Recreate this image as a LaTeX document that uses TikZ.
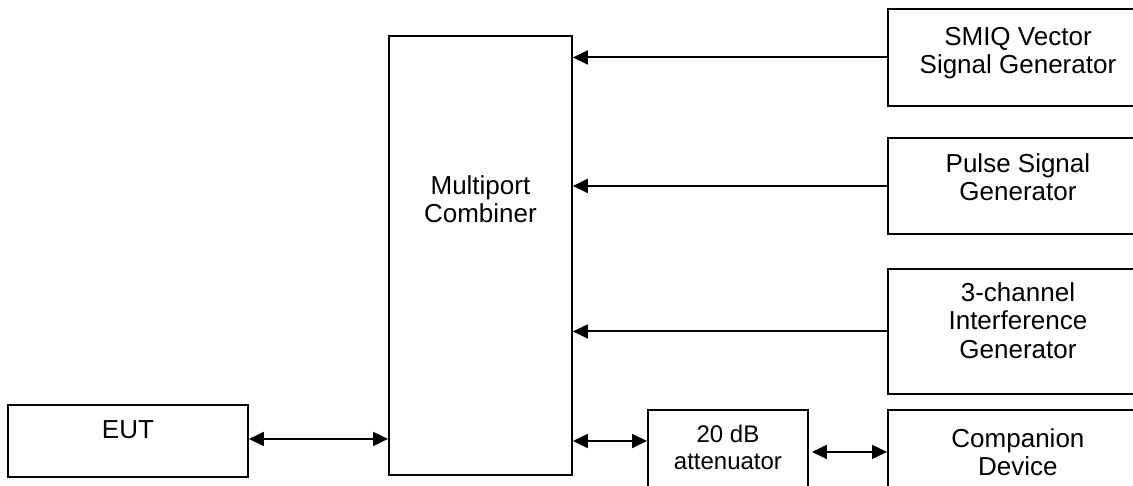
\documentclass[tikz,border=0pt]{standalone}
\usepackage{fontspec}
\setmainfont{Liberation Sans}
\usetikzlibrary{positioning,arrows.meta}
\tikzset{
  box/.style={draw,line width=1.9pt,inner sep=0pt,anchor=north west},
  txt/.style={align=center,inner sep=0pt,font=\fontsize{26}{28.5}\selectfont},
  conn/.style={line width=1.9pt,-{Triangle[length=15pt,width=14pt]}},
  dconn/.style={line width=1.9pt,{Triangle[length=15pt,width=14pt]}-{Triangle[length=15pt,width=14pt]}}
}
\begin{document}
\begin{tikzpicture}[x=1pt,y=-1pt]
\useasboundingbox(0,0)rectangle(1133,486);
\node[box,minimum width=240pt,minimum height=72pt](eut)at(7,404){};
\node[box,minimum width=183pt,minimum height=439pt](comb)at(388,35){};
\node[box,minimum width=160pt,minimum height=81pt](att)at(647,409){};
\node[box,minimum width=260pt,minimum height=97pt](smiq)at(887,8){};
\node[box,minimum width=260pt,minimum height=96pt](pulse)at(887,137){};
\node[box,minimum width=260pt,minimum height=125pt](inter)at(887,268){};
\node[box,minimum width=260pt,minimum height=81pt](comp)at(887,409){};
\node[txt,below=16pt of eut.north](euttxt){EUT};
\node[txt,below=140pt of comb.north](combtxt){Multiport\\Combiner};
\node[txt,font=\fontsize{24}{27}\selectfont,below=16pt of att.north](atttxt){20 dB\\attenuator};
\node[txt,below=19pt of smiq.north](smiqtxt){SMIQ Vector\\Signal Generator};
\node[txt,below=16pt of pulse.north](pulsetxt){Pulse Signal\\Generator};
\node[txt,below=14pt of inter.north](intertxt){3-channel\\Interference\\Generator};
\node[txt,below=19pt of comp.north](comptxt){Companion\\Device};
\draw[conn](smiq.west)--(smiq.west-|comb.east);
\draw[conn](pulse.west)--(pulse.west-|comb.east);
\draw[conn](inter.west)--(inter.west-|comb.east);
\draw[dconn]([yshift=2pt]eut.east)--([yshift=2pt]eut.east-|comb.west);
\draw[dconn]([yshift=-32pt]att.north west)--([yshift=-32pt]att.north west-|comb.east);
\draw[dconn,shorten <=3pt]([yshift=-1.5pt]att.east)--([yshift=-1.5pt]att.east-|comp.west);
\end{tikzpicture}
\end{document}
